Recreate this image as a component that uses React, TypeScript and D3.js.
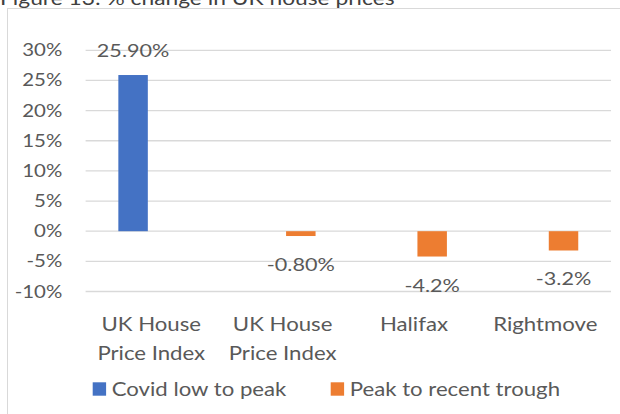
import * as d3 from "d3";

// chart values
const categories = ["UK House Price Index (a)", "UK House Price Index (b)", "Halifax", "Rightmove"];
const categoryLines = [["UK House", "Price Index"], ["UK House", "Price Index"], ["Halifax"], ["Rightmove"]];
const seriesNames = ["Covid low to peak", "Peak to recent trough"];
const covidLowToPeak = [25.9, null, null, null];
const peakToTrough = [null, -0.8, -4.2, -3.2];
const valueLabels = [["25.90%", null], [null, "-0.80%"], [null, "-4.2%"], [null, "-3.2%"]];
const yTicks = [-10, -5, 0, 5, 10, 15, 20, 25, 30];
const title = "Figure 13: % change in UK house prices";

const colors = ["#4472C4", "#ED7D31"];
const textColor = "#595959";
const gridColor = "#d9d9d9";
const font = "Lato, 'Open Sans', sans-serif";
const stretch = 1.2;

const Label = ({ x, y, size, anchor = "start", fill = textColor, children }) => (
  <text
    transform={`translate(${x},${y}) scale(${stretch},1)`}
    fontSize={size}
    textAnchor={anchor}
    fill={fill}
    fontFamily={font}
  >
    {children}
  </text>
);

const App = () => {
  const width = 620;
  const height = 414;

  const yScale = d3.scaleLinear().domain([-10, 30]).range([291.5, 50.3]);
  const xScale = d3.scaleBand().domain(categories).range([85.6, 611]).padding(0);
  const seriesScale = d3
    .scaleBand()
    .domain(seriesNames)
    .range([0, xScale.bandwidth()])
    .paddingInner(0.19)
    .paddingOuter(0.9);

  const series = [covidLowToPeak, peakToTrough];

  return (
    <svg width={width} height={height} style={{ position: "absolute", left: 0, top: 0 }}>
      <rect width={width} height={height} fill="#fff" />
      {/* title, mostly cropped off at the top */}
      <Label x={0} y={4.5} size={19} fill="#404040">
        {title}
      </Label>
      {/* chart frame */}
      <rect x={7.5} y={8.5} width={width} height={height} fill="none" stroke={gridColor} />

      {yTicks.map((t) => (
        <g key={t}>
          <line x1={85.6} x2={611} y1={yScale(t)} y2={yScale(t)} stroke={gridColor} strokeWidth={1.3} />
          <Label x={62.3} y={yScale(t) + 6} size={17} anchor="end">
            {t}%
          </Label>
        </g>
      ))}

      {categories.map((c, i) => (
        <g key={c}>
          {series.map((s, j) => {
            const v = s[i];
            if (v == null) return null;
            const x = xScale(c) + seriesScale(seriesNames[j]);
            const y0 = yScale(Math.max(0, v));
            const y1 = yScale(Math.min(0, v));
            const label = valueLabels[i][j];
            return (
              <g key={j}>
                <rect x={x} y={y0} width={seriesScale.bandwidth()} height={y1 - y0} fill={colors[j]} />
                {label && (
                  <Label
                    x={x + seriesScale.bandwidth() / 2}
                    y={v >= 0 ? y0 - 17.7 : y1 + 35}
                    size={18}
                    anchor="middle"
                  >
                    {label}
                  </Label>
                )}
              </g>
            );
          })}
          {categoryLines[i].map((line, k) => (
            <Label
              key={k}
              x={xScale(c) + xScale.bandwidth() / 2}
              y={331 + k * 29}
              size={18.5}
              anchor="middle"
            >
              {line}
            </Label>
          ))}
        </g>
      ))}

      {/* legend */}
      {seriesNames.map((name, j) => {
        const lx = [92.7, 330.7][j];
        return (
          <g key={name}>
            <rect x={lx} y={382.3} width={13.4} height={13.4} fill={colors[j]} />
            <Label x={lx + 19} y={395.5} size={18.5}>
              {name}
            </Label>
          </g>
        );
      })}
    </svg>
  );
};

export default App;
